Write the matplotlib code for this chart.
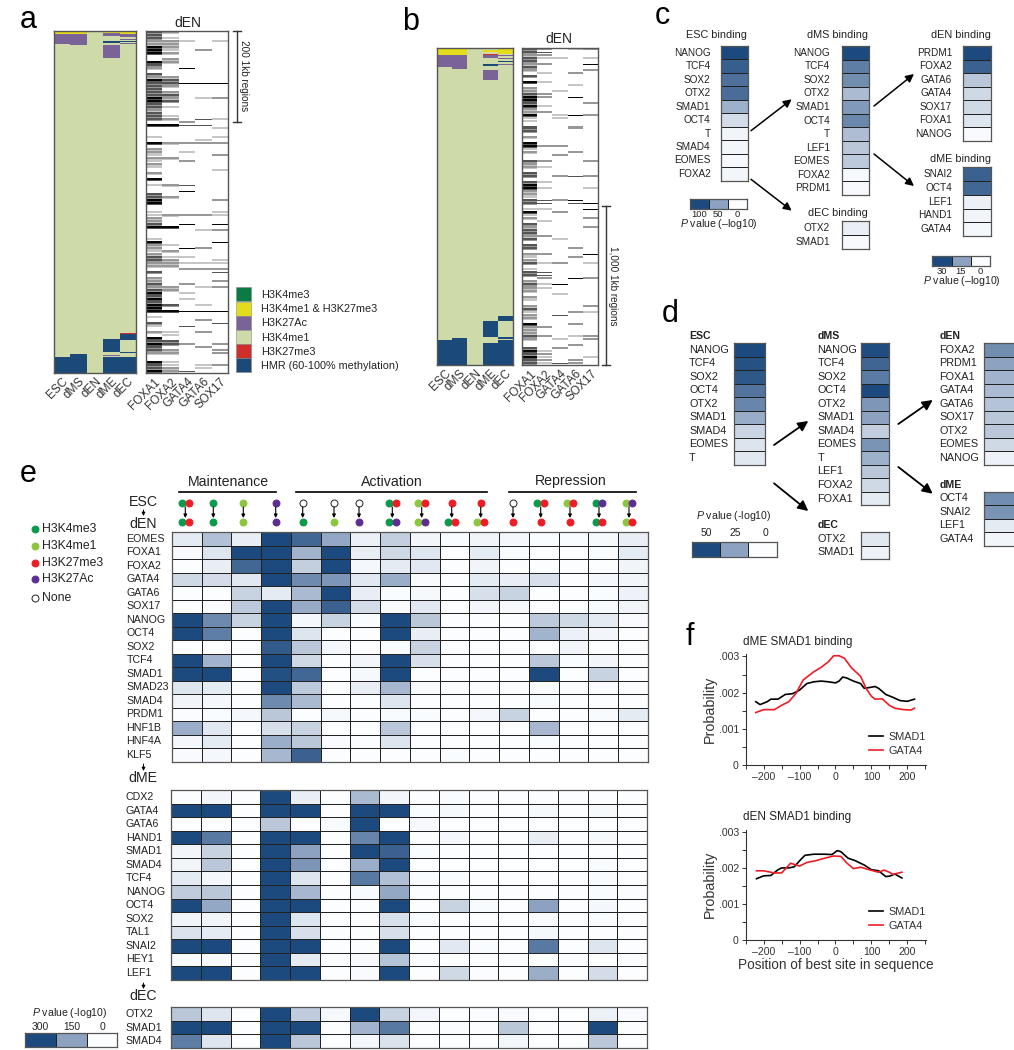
import numpy as np
import matplotlib
matplotlib.use("Agg")
import matplotlib.pyplot as plt
from matplotlib.colors import LinearSegmentedColormap, ListedColormap
from matplotlib.patches import Rectangle

plt.rcParams['font.family'] = ['Liberation Sans', 'DejaVu Sans']
plt.rcParams['mathtext.fontset'] = 'custom'
plt.rcParams['mathtext.it'] = 'Liberation Sans:italic'
plt.rcParams['mathtext.rm'] = 'Liberation Sans'
plt.rcParams['mathtext.default'] = 'regular'

W, H = 1014, 1050
TXT = '#222222'

# ---------------- data: chromatin state run lengths ----------------
STATE_NAMES = ['H3K4me3', 'H3K4me1 & H3K27me3', 'H3K27Ac', 'H3K4me1', 'H3K27me3', 'HMR (60-100% methylation)']
STATE_COLORS = ['#0c7a44', '#e3dc1a', '#7a6397', '#cedba9', '#cf2e2a', '#1b4a78']
K4, YE, AC, ME, RE, HM = 0, 1, 2, 3, 4, 5
STAGES = ['ESC', 'dMS', 'dEN', 'dME', 'dEC']
TFS = ['FOXA1', 'FOXA2', 'GATA4', 'GATA6', 'SOX17']

a_states = [
    [(YE, 6), (AC, 22), (ME, 688), (HM, 34)],
    [(YE, 6), (AC, 25), (ME, 677), (HM, 42)],
    [(ME, 750)],
    [(ME, 2), (YE, 2), (AC, 7), (ME, 10), (HM, 5), (ME, 5), (AC, 28), (ME, 617), (HM, 29),
     (ME, 6), (AC, 1), (ME, 4), (HM, 34)],
    [(YE, 6), (AC, 4), (ME, 1), (RE, 1), (AC, 2), (ME, 4), (AC, 2), (ME, 3), (HM, 2), (ME, 2),
     (AC, 2), (ME, 30), (YE, 1), (ME, 603), (RE, 2), (HM, 13), (ME, 26), (HM, 3), (ME, 8), (HM, 35)],
]
b_states = [
    [(YE, 42), (AC, 77), (ME, 1705), (HM, 156)],
    [(YE, 42), (AC, 87), (ME, 1680), (HM, 171)],
    [(ME, 1980)],
    [(ME, 10), (YE, 12), (ME, 15), (RE, 4), (AC, 23), (ME, 33), (HM, 17), (ME, 8), (YE, 4), (ME, 10),
     (AC, 65), (ME, 1507), (HM, 98), (ME, 34), (HM, 140)],
    [(ME, 6), (YE, 31), (ME, 8), (AC, 6), (ME, 12), (AC, 5), (ME, 12), (HM, 8), (ME, 10), (AC, 8),
     (ME, 30), (AC, 4), (ME, 60), (ME, 1472), (RE, 4), (HM, 30), (ME, 98), (HM, 12), (ME, 8), (HM, 156)],
]

# ---------------- data: TF occupancy stripes (grey levels 0-4) ----------------
a_foxa1 = "3332244400" "4320324333" "3344332333" "0400010402" "2121210204" "0100334400" \
          "1122340001" "4221233220" "3022323434" "3444010310" "20434332004334"
a_foxa2 = "2012221202" "2000023320" "2323010012" "0400000200" "0020000000" "0200020000" \
          "0200040000" "0102012220" "0000022000" "0304000000" "11033022001122"
a_gata4 = {3: 1, 12: 4, 17: 4, 30: 2, 31: 3, 37: 2, 40: 1, 43: 2, 51: 3, 53: 4, 61: 2, 64: 4, 72: 4,
           75: 1, 77: 1, 79: 2, 84: 2, 87: 1, 89: 1, 93: 4, 98: 3, 104: 2, 113: 3}
a_gata6 = {6: 2, 17: 4, 22: 1, 29: 3, 31: 3, 36: 1, 37: 2, 61: 2, 66: 1, 72: 2, 77: 1, 79: 2, 85: 1,
           91: 1, 93: 4, 96: 2, 100: 2, 105: 2, 111: 1, 112: 1}
a_sox17 = {3: 1, 17: 4, 22: 2, 29: 1, 32: 1, 35: 1, 37: 2, 41: 2, 46: 1, 56: 2, 60: 1, 61: 1, 64: 4,
           66: 2, 70: 4, 76: 1, 77: 1, 79: 2, 80: 3, 83: 2, 85: 2, 93: 4, 97: 3, 104: 2, 106: 2, 107: 2, 111: 2}

b_foxa1 = "3323323203" "0402234434" "2241103302" "0441200322" "0330344221" "3301412032" \
          "3323033021" "2301330232" "2021023122" "0422232003" "43433"
b_foxa2 = {0: 2, 1: 3, 2: 2, 3: 1, 5: 2, 8: 1, 11: 1, 15: 2, 16: 2, 19: 1, 21: 2, 32: 2, 37: 2, 39: 1,
           44: 1, 46: 1, 50: 3, 51: 3, 53: 1, 57: 1, 62: 2, 68: 2, 71: 1, 74: 3, 75: 3, 76: 2, 78: 1,
           79: 1, 92: 2, 95: 2, 100: 1, 101: 2, 102: 1, 103: 2, 104: 1}
b_gata4 = {3: 1, 14: 1, 22: 1, 23: 1, 32: 2, 35: 2, 42: 2, 50: 2, 54: 2, 63: 1, 71: 2, 78: 4, 81: 1,
           88: 3, 96: 1, 99: 2, 104: 3}
b_gata6 = {0: 1, 8: 2, 12: 1, 16: 4, 22: 4, 26: 2, 34: 2, 42: 3, 50: 4, 51: 3, 66: 2, 69: 2, 76: 4,
           87: 2, 91: 2, 95: 1, 98: 2, 103: 2, 104: 2}
b_sox17 = {0: 2, 3: 1, 5: 4, 7: 2, 18: 2, 22: 2, 37: 2, 42: 2, 46: 1, 51: 4, 53: 4, 56: 2, 59: 2, 68: 4,
           71: 1, 76: 2, 85: 2, 87: 1, 95: 2, 96: 2, 102: 1}

# ---------------- data: panel c ----------------
c_esc_names = ['NANOG', 'TCF4', 'SOX2', 'OTX2', 'SMAD1', 'OCT4', 'T', 'SMAD4', 'EOMES', 'FOXA2']
c_esc_vals = [100, 88, 78, 80, 42, 18, 5, 4, 3, 4]
c_dms_names = ['NANOG', 'TCF4', 'SOX2', 'OTX2', 'SMAD1', 'OCT4', 'T', 'LEF1', 'EOMES', 'FOXA2', 'PRDM1']
c_dms_vals = [100, 70, 62, 36, 55, 65, 35, 30, 28, 3, 2]
c_den_names = ['PRDM1', 'FOXA2', 'GATA6', 'GATA4', 'SOX17', 'FOXA1', 'NANOG']
c_den_vals = [30, 26, 9, 6, 6, 4, 0.5]
c_dme_names = ['SNAI2', 'OCT4', 'LEF1', 'HAND1', 'GATA4']
c_dme_vals = [26, 25, 2, 1.5, 1]
c_dec_names = ['OTX2', 'SMAD1']
c_dec_vals = [8, 2]

# ---------------- data: panel d ----------------
d_esc_names = ['NANOG', 'TCF4', 'SOX2', 'OCT4', 'OTX2', 'SMAD1', 'SMAD4', 'EOMES', 'T']
d_esc_vals = [50, 48, 46, 38, 33, 22, 11, 7, 6]
d_dms_names = ['NANOG', 'TCF4', 'SOX2', 'OCT4', 'OTX2', 'SMAD1', 'SMAD4', 'EOMES', 'T', 'LEF1', 'FOXA2', 'FOXA1']
d_dms_vals = [49, 42, 36, 50, 28, 25, 13, 29, 21, 15, 10, 5]
d_den_names = ['FOXA2', 'PRDM1', 'FOXA1', 'GATA4', 'GATA6', 'SOX17', 'OTX2', 'EOMES', 'NANOG']
d_den_vals = [31, 25, 20, 18, 16, 15, 15, 10, 3]
d_dme_names = ['OCT4', 'SNAI2', 'LEF1', 'GATA4']
d_dme_vals = [31, 29, 5, 2]
d_dec_names = ['OTX2', 'SMAD1']
d_dec_vals = [6, 3]

# ---------------- data: panel e ----------------
e_den_names = ['EOMES', 'FOXA1', 'FOXA2', 'GATA4', 'GATA6', 'SOX17', 'NANOG', 'OCT4', 'SOX2', 'TCF4', 'SMAD1',
               'SMAD23', 'SMAD4', 'PRDM1', 'HNF1B', 'HNF4A', 'KLF5']
e_den_vals = [
    [30, 100, 25, 300, 250, 140, 20, 75, 12, 3, 15, 10, 3, 3, 8, 25],
    [5, 40, 300, 300, 120, 300, 25, 60, 40, 0, 30, 3, 0, 0, 3, 30],
    [0, 25, 250, 300, 75, 300, 10, 30, 35, 0, 15, 0, 0, 0, 0, 15],
    [60, 55, 35, 300, 190, 170, 35, 130, 5, 0, 30, 25, 50, 0, 10, 12],
    [0, 0, 70, 30, 110, 300, 25, 3, 8, 0, 50, 70, 0, 0, 3, 18],
    [0, 2, 85, 300, 135, 260, 55, 5, 35, 0, 12, 8, 0, 0, 4, 14],
    [300, 190, 70, 300, 10, 70, 3, 300, 90, 0, 0, 0, 85, 60, 30, 5],
    [300, 210, 0, 300, 40, 0, 0, 300, 25, 0, 0, 0, 120, 20, 12, 0],
    [0, 0, 0, 270, 90, 10, 0, 3, 70, 0, 0, 0, 0, 15, 0, 0],
    [300, 120, 0, 300, 60, 0, 12, 300, 50, 0, 0, 0, 90, 3, 12, 0],
    [300, 300, 0, 290, 250, 0, 8, 300, 0, 0, 0, 0, 300, 0, 70, 0],
    [40, 30, 0, 300, 85, 0, 25, 115, 4, 0, 0, 0, 3, 0, 2, 0],
    [15, 10, 0, 190, 110, 0, 0, 40, 0, 0, 0, 0, 4, 0, 0, 0],
    [2, 3, 10, 90, 0, 8, 0, 4, 3, 0, 10, 70, 0, 0, 4, 30],
    [130, 35, 0, 50, 70, 0, 0, 90, 0, 0, 0, 0, 115, 0, 0, 0],
    [10, 30, 0, 130, 90, 5, 2, 40, 0, 0, 0, 0, 3, 0, 0, 0],
    [5, 10, 0, 115, 260, 0, 0, 0, 0, 3, 0, 0, 0, 0, 0, 0],
]
e_dme_names = ['CDX2', 'GATA4', 'GATA6', 'HAND1', 'SMAD1', 'SMAD4', 'TCF4', 'NANOG', 'OCT4', 'SOX2', 'TAL1',
               'SNAI2', 'HEY1', 'LEF1']
e_dme_vals = [
    [0, 12, 0, 300, 25, 0, 110, 12, 0, 3, 0, 0, 0, 0, 0, 0],
    [300, 300, 0, 300, 300, 0, 300, 300, 3, 8, 0, 0, 8, 0, 8, 0],
    [0, 0, 0, 90, 0, 3, 300, 0, 6, 0, 0, 0, 0, 0, 0, 0],
    [300, 220, 0, 300, 300, 0, 200, 300, 0, 10, 0, 0, 25, 0, 8, 0],
    [12, 70, 0, 300, 150, 0, 300, 260, 3, 0, 0, 0, 0, 0, 0, 0],
    [15, 90, 0, 300, 170, 0, 130, 300, 0, 0, 0, 0, 0, 0, 3, 0],
    [30, 10, 0, 300, 40, 0, 220, 100, 3, 3, 0, 0, 0, 0, 3, 0],
    [80, 90, 0, 300, 115, 0, 4, 140, 0, 0, 0, 0, 0, 0, 3, 2],
    [300, 140, 0, 300, 300, 0, 0, 300, 0, 70, 4, 0, 150, 0, 10, 0],
    [15, 15, 0, 300, 40, 0, 0, 50, 3, 0, 0, 0, 5, 0, 3, 0],
    [45, 30, 0, 300, 50, 0, 0, 50, 0, 0, 0, 0, 10, 0, 0, 0],
    [300, 300, 0, 300, 300, 0, 0, 300, 0, 35, 3, 0, 220, 0, 40, 0],
    [5, 8, 0, 300, 30, 0, 6, 95, 0, 0, 0, 0, 0, 0, 0, 0],
    [300, 300, 0, 300, 300, 0, 5, 300, 0, 60, 2, 0, 130, 0, 55, 0],
]
e_dec_names = ['OTX2', 'SMAD1', 'SMAD4']
e_dec_vals = [
    [90, 40, 0, 300, 80, 8, 300, 70, 12, 0, 2, 5, 0, 0, 20, 5],
    [300, 300, 0, 300, 300, 0, 120, 220, 0, 2, 0, 90, 0, 0, 300, 0],
    [210, 40, 0, 300, 90, 0, 10, 45, 0, 0, 0, 12, 0, 0, 90, 0],
]
DOT = {'g': '#0a9a4a', 'l': '#8cc63f', 'r': '#ee1c25', 'p': '#5e2d91', 'o': 'white'}
e_from = ['gr', 'g', 'l', 'p', 'o', 'o', 'o', 'gr', 'lr', 'r', 'r', 'o', 'gr', 'lr', 'gp', 'lp']
e_to = ['gr', 'g', 'l', 'p', 'g', 'l', 'p', 'gp', 'lp', 'gr', 'lr', 'r', 'r', 'r', 'gr', 'lr']
e_head_x = [185.3, 213.3, 243.3, 275.7, 302.7, 334, 359, 392.3, 421.7, 451.7, 480.7, 513, 540.7, 570, 599, 629]
e_groups = ['Maintenance', 'Activation', 'Repression']
e_legend_names = ['H3K4me3', 'H3K4me1', 'H3K27me3', 'H3K27Ac', 'None']
e_legend_keys = ['g', 'l', 'r', 'p', 'o']

# ---------------- data: panel f ----------------
f1_smad1_x = [-222, -210, -190, -180, -160, -140, -120, -100, -80, -60, -40, -20, 0, 10, 20, 30, 50, 70, 80, 100, 110,
              120, 140, 160, 180, 200, 220]
f1_smad1_y = [.00175, .00167, .00175, .00182, .00182, .00195, .00197, .00207, .00225, .0023, .00232, .0023, .00227,
              .00232, .00243, .00241, .00232, .00225, .00212, .00215, .00217, .00212, .00195, .00187, .00178, .00176,
              .00182]
f1_gata4_x = [-222, -200, -170, -150, -130, -110, -90, -60, -40, -20, -5, 10, 25, 45, 70, 85, 100, 110, 130, 150, 165,
              190, 210, 220]
f1_gata4_y = [.00145, .00153, .00153, .00165, .00175, .00198, .00235, .00258, .0027, .00285, .00302, .00302, .00295,
              .00268, .00245, .00212, .0019, .00182, .00183, .00165, .00157, .00153, .00152, .00157]
f2_smad1_x = [-220, -200, -180, -160, -150, -130, -115, -95, -85, -60, -30, -10, 5, 15, 35, 55, 80, 100, 120, 140, 150,
              165, 185]
f2_smad1_y = [.0017, .00178, .00179, .00195, .002, .002, .00203, .00225, .00235, .00238, .00238, .00237, .00248, .00245,
              .00227, .0022, .00208, .00195, .00192, .00176, .00177, .00183, .00172]
f2_gata4_x = [-220, -200, -170, -150, -125, -100, -80, -55, -30, -5, 15, 30, 50, 70, 90, 120, 135, 150, 160, 185]
f2_gata4_y = [.00192, .00192, .00186, .00186, .00213, .00205, .00215, .0022, .00227, .00233, .00232, .00215, .00198,
              .00202, .00196, .00188, .00194, .00188, .00182, .00188]

# ---------------- helpers ----------------
BLUE = LinearSegmentedColormap.from_list('b', [(0, '#fbfdff'), (.5, '#8ca2c0'), (1, '#1c4a7e')])
GREY = ListedColormap(['#ffffff', '#c6c6c6', '#989898', '#555555', '#050505'])
STATE_CMAP = ListedColormap(STATE_COLORS)

fig = plt.figure(figsize=(W / 100, H / 100), dpi=100, facecolor='white')
ov = fig.add_axes([0, 0, 1, 1], zorder=0)
ov.set_xlim(0, W)
ov.set_ylim(H, 0)
ov.axis('off')


def box(x0, y0, x1, y1):
    return fig.add_axes([x0 / W, 1 - y1 / H, (x1 - x0) / W, (y1 - y0) / H], zorder=1)


def T(x, y, s, size=7.7, ha='left', va='center', **kw):
    kw.setdefault('color', TXT)
    return ov.text(x, y, s, fontsize=size, ha=ha, va=va, **kw)


def plain(ax):
    ax.set_xticks([])
    ax.set_yticks([])
    for s in ax.spines.values():
        s.set_linewidth(.9)
        s.set_color('#555555')


def heat(x0, y0, x1, y1, vals, vmax, lw=0.55):
    ax = box(x0, y0, x1, y1)
    arr = np.array(vals, float)
    if arr.ndim == 1:
        arr = arr[:, None]
    ax.pcolormesh(arr, cmap=BLUE, vmin=0, vmax=vmax, edgecolors='#222222', linewidth=lw)
    ax.set_ylim(arr.shape[0], 0)
    plain(ax)
    return ax


def row_centers(y0, y1, n):
    return [y0 + (y1 - y0) * (i + .5) / n for i in range(n)]


def labels(names, x, y0, y1, ha='right', size=7.2):
    for n, y in zip(names, row_centers(y0, y1, len(names))):
        T(x, y, n, size=size, ha=ha)


def arrow(p, q, ms=12, lw=1.1):
    ov.annotate('', xy=q, xytext=p, arrowprops=dict(arrowstyle='-|>', lw=lw, color='black', mutation_scale=ms,
                                                    shrinkA=0, shrinkB=0))


def runs_to_col(runs):
    return np.concatenate([np.full(n, s) for s, n in runs])


def states_panel(x0, y0, x1, y1, runs):
    ax = box(x0, y0, x1, y1)
    n = max(sum(c for _, c in col) for col in runs)
    img = np.column_stack([runs_to_col(col)[:n] for col in runs])
    ax.imshow(img, cmap=STATE_CMAP, vmin=0, vmax=5, aspect='auto', interpolation='nearest')
    ax.set_yticks([])
    ax.set_xticks(range(len(STAGES)))
    ax.set_xticklabels(STAGES, rotation=45, ha='right', rotation_mode='anchor', fontsize=8.6, color='#333333')
    ax.tick_params(length=0, pad=2)
    for s in ax.spines.values():
        s.set_linewidth(1.0)
        s.set_color('#555555')
    return ax


def fine_col(col, n):
    """Three sub-rows per row; dense (string) columns keep a lighter third sub-row, sparse ones draw thin lines."""
    out = np.zeros(3 * n, int)
    if isinstance(col, str):
        for i, c in enumerate(col[:n]):
            lv = int(c)
            out[3 * i:3 * i + 2] = lv
            out[3 * i + 2] = max(lv - 1, 0)
    else:
        for i, lv in col.items():
            if i < n:
                if lv >= 3:
                    out[3 * i + 1] = lv
                else:
                    out[3 * i:3 * i + 2] = lv
    return out


def stripes_panel(x0, y0, x1, y1, cols):
    ax = box(x0, y0, x1, y1)
    n = len(cols[0])
    img = np.column_stack([fine_col(c, n) for c in cols])
    ax.imshow(img, cmap=GREY, vmin=0, vmax=4, aspect='auto', interpolation='nearest')
    ax.set_yticks([])
    ax.set_xticks(np.arange(len(TFS)))
    ax.set_xticklabels(TFS, rotation=45, ha='right', rotation_mode='anchor', fontsize=8.6, color='#333333')
    ax.tick_params(length=0, pad=2)
    for s in ax.spines.values():
        s.set_linewidth(1.0)
        s.set_color('#555555')
    return ax


def bracket(x, y0, y1):
    ov.plot([x, x], [y0, y1], color='#333333', lw=1)
    for y in (y0, y1):
        ov.plot([x - 4, x + 4], [y, y], color='#333333', lw=1)


# ---------------- panel a ----------------
T(20, 28, 'a', size=22, va='baseline', color='black')
states_panel(54, 31, 136, 373, a_states)
stripes_panel(146, 31, 228, 373, [a_foxa1, a_foxa2, a_gata4, a_gata6, a_sox17])
T(188, 23, 'dEN', size=10, ha='center')
bracket(237, 31, 122)
T(244, 76, '200 1kb regions', size=7.2, ha='center', rotation=-90)
for i, (c, n) in enumerate(zip(STATE_COLORS, STATE_NAMES)):
    ov.add_patch(Rectangle((235.7, 287.3 + 14.2 * i), 15, 14.2, fc=c, ec='#888888', lw=.4))
    T(261, 294.5 + 14.35 * i, n, size=7.8)

# ---------------- panel b ----------------
T(402, 30, 'b', size=22, va='baseline', color='black')
states_panel(437.3, 48.3, 512.7, 365, b_states)
stripes_panel(522.3, 48.3, 598.3, 365, [b_foxa1, b_foxa2, b_gata4, b_gata6, b_sox17])
T(559, 39, 'dEN', size=10, ha='center')
bracket(605.7, 206, 365)
T(613, 286, '1,000 1kb regions', size=7.2, ha='center', rotation=-90)

# ---------------- panel c ----------------
T(655, 24, 'c', size=22, va='baseline', color='black')
heat(720.7, 46, 747.7, 180.7, c_esc_vals, 100)
labels(c_esc_names, 710.5, 46, 180.7)
heat(842, 46, 869.3, 195, c_dms_vals, 100)
labels(c_dms_names, 830, 46, 195)
heat(963.3, 46, 990.7, 140.7, c_den_vals, 30)
labels(c_den_names, 952, 46, 140.7)
heat(963.3, 167.3, 990.7, 236, c_dme_vals, 30)
labels(c_dme_names, 952, 167.3, 236)
heat(842, 221.3, 869.3, 248.7, c_dec_vals, 100)
labels(c_dec_names, 830, 221.3, 248.7)
for x, y, s in [(747, 35.5, 'ESC binding'), (868, 35.5, 'dMS binding'), (990.5, 35.5, 'dEN binding'),
                (990.5, 159.5, 'dME binding'), (868, 213.5, 'dEC binding')]:
    T(x, y, s, size=7.8, ha='right')
for p, q in [((751, 130.7), (791.7, 99.3)), ((751, 179.3), (791.7, 210.7)),
             ((874, 106), (914, 74)), ((874, 154), (914, 186))]:
    arrow(p, q)
heat(689.7, 199, 747.3, 209.3, [[100, 50, 0]], 100)
for x, s in zip([699, 718.3, 737.3], ['100', '50', '0']):
    T(x, 214.5, s, size=6.8, ha='center')
T(719.3, 224, r'$\mathit{P}$ value (–log10)', size=7.6, ha='center')
heat(932.3, 255.7, 990, 266, [[30, 15, 0]], 30)
for x, s in zip([941.7, 961, 980], ['30', '15', '0']):
    T(x, 271, s, size=6.8, ha='center')
T(961.7, 280.5, r'$\mathit{P}$ value (–log10)', size=7.6, ha='center')

# ---------------- panel d ----------------
T(662, 322, 'd', size=22, va='baseline', color='black')
heat(734.3, 343, 765, 464.7, d_esc_vals, 50)
labels(d_esc_names, 689, 343, 464.7, ha='left', size=7.8)
heat(861.3, 343, 889.3, 505.3, d_dms_vals, 50)
labels(d_dms_names, 817.5, 343, 505.3, ha='left', size=7.8)
heat(984.3, 343, 1016, 464.7, d_den_vals, 50)
labels(d_den_names, 939.5, 343, 464.7, ha='left', size=7.8)
heat(984.3, 491.7, 1016, 545.7, d_dme_vals, 50)
labels(d_dme_names, 939.5, 491.7, 545.7, ha='left', size=7.8)
heat(861.3, 532, 889.3, 559.3, d_dec_vals, 50)
labels(d_dec_names, 817.5, 532, 559.3, ha='left', size=7.8)
for x, y, s in [(689, 336, 'ESC'), (817.5, 336, 'dMS'), (939.5, 336, 'dEN'), (939.5, 485, 'dME'), (817.5, 525.5, 'dEC')]:
    T(x, y, s, size=7.6, fontweight='bold')
for p, q in [((774, 445), (808.3, 421)), ((774, 483.3), (808.3, 511)),
             ((898.3, 424), (932.7, 400)), ((898.3, 467), (932.7, 493.7))]:
    arrow(p, q, ms=15, lw=1.3)
heat(691.7, 542.3, 776.7, 557, [[50, 25, 0]], 50)
for x, s in zip([706, 735, 765.7], ['50', '25', '0']):
    T(x, 533, s, size=7.4, ha='center')
T(734, 515.7, r'$\mathit{P}$ value (-log10)', size=7.6, ha='center')

# ---------------- panel e ----------------
T(20, 482, 'e', size=22, va='baseline', color='black')
E_X0, E_X1 = 172, 647.7
heat(E_X0, 532, E_X1, 761.7, e_den_vals, 300)
labels(e_den_names, 126.5, 532, 761.7, ha='left', size=7.7)
heat(E_X0 - .7, 790.3, E_X1 - .7, 979.7, e_dme_vals, 300)
labels(e_dme_names, 125.7, 790.3, 979.7, ha='left', size=7.7)
heat(E_X0 - .7, 1007.3, E_X1 - .7, 1048, e_dec_vals, 300)
labels(e_dec_names, 125.7, 1007.3, 1048, ha='left', size=7.7)
for x, y, s in [(143.3, 502.5, 'ESC'), (142.7, 523.5, 'dEN'), (143, 778.5, 'dME'), (143, 996.5, 'dEC')]:
    T(x, y, s, size=10.2, ha='center')
for x, y0, y1 in [(143.5, 510, 516), (143.5, 764, 771), (143.5, 983, 989)]:
    arrow((x, y0), (x, y1), ms=5, lw=.7)
for s, xc, l0, l1 in zip(e_groups, [228.3, 391.7, 570.7], [179.3, 295.7, 509], [276, 486.7, 635.7]):
    T(xc, 481.5, s, size=10.2, ha='center')
    ov.plot([l0, l1], [492.3, 492.3], color='black', lw=1.2)


def dots(xc, y, key):
    n = len(key)
    for i, k in enumerate(key):
        x = xc + (i - (n - 1) / 2) * 6.7
        ov.plot([x], [y], 'o', ms=5.0, mfc=DOT[k], mec='#222222' if k == 'o' else DOT[k], mew=.7)


for x, a, b in zip(e_head_x, e_from, e_to):
    dots(x, 502.5, a)
    dots(x, 522, b)
    arrow((x, 507), (x, 518), ms=5, lw=.8)
for y, n, k in zip([528.7, 545.7, 562.7, 579.3, 597.7], e_legend_names, e_legend_keys):
    ov.plot([35.3], [y], 'o', ms=5.0, mfc=DOT[k], mec='#222222' if k == 'o' else DOT[k], mew=.7)
    T(41.7, y, n, size=8.8)
heat(25, 1033.3, 117.3, 1047, [[300, 150, 0]], 300)
for x, s in zip([40.7, 71.7, 102], ['300', '150', '0']):
    T(x, 1026.7, s, size=7.4, ha='center')
T(70, 1013.3, r'$\mathit{P}$ value (-log10)', size=7.6, ha='center')


# ---------------- panel f ----------------
def curve_axes(y0, y1, sx, sy, gx, gy, xlabel=None):
    ax = box(745.7, y0, 926, y1)
    ax.patch.set_alpha(0)
    ax.plot(sx, sy, color='black', lw=1.2, label='SMAD1')
    ax.plot(gx, gy, color='#ee1c25', lw=1.2, label='GATA4')
    ax.set_xlim(-249, 252)
    ax.set_ylim(0, 0.00306)
    for s in ('top', 'right'):
        ax.spines[s].set_visible(False)
    for s in ('left', 'bottom'):
        ax.spines[s].set_linewidth(.8)
        ax.spines[s].set_color('#333333')
    ax.set_xticks([-200, -100, 0, 100, 200])
    ax.set_xticklabels(['–200', '–100', '0', '100', '200'], fontsize=7.6, color='#333333')
    ax.set_xticks([-250, -150, -50, 50, 150, 250], minor=True)
    ax.set_yticks([0, .001, .002, .003])
    ax.set_yticklabels(['0', '.001', '.002', '.003'], fontsize=7.6, color='#333333')
    ax.set_yticks([.0005, .0015, .0025], minor=True)
    ax.tick_params(which='both', length=3, width=.7, pad=2, color='#333333')
    ax.set_ylabel('Probability', fontsize=10.3, color='#333333', labelpad=1)
    if xlabel:
        ax.set_xlabel(xlabel, fontsize=9.8, color='#333333', labelpad=1)
    ax.legend(loc='lower right', bbox_to_anchor=(1.03, 0.03), frameon=False, fontsize=7.8, handlelength=1.3,
              labelspacing=.4, handletextpad=.55, borderpad=0, labelcolor='#333333')
    return ax


T(686, 645, 'f', size=22, va='baseline', color='black')
T(743, 642, 'dME SMAD1 binding', size=8.5)
T(743, 817, 'dEN SMAD1 binding', size=8.5)
curve_axes(654.3, 765, f1_smad1_x, f1_smad1_y, f1_gata4_x, f1_gata4_y)
curve_axes(829.7, 940, f2_smad1_x, f2_smad1_y, f2_gata4_x, f2_gata4_y, 'Position of best site in sequence')

fig.savefig('out.png', dpi=100, facecolor='white')
